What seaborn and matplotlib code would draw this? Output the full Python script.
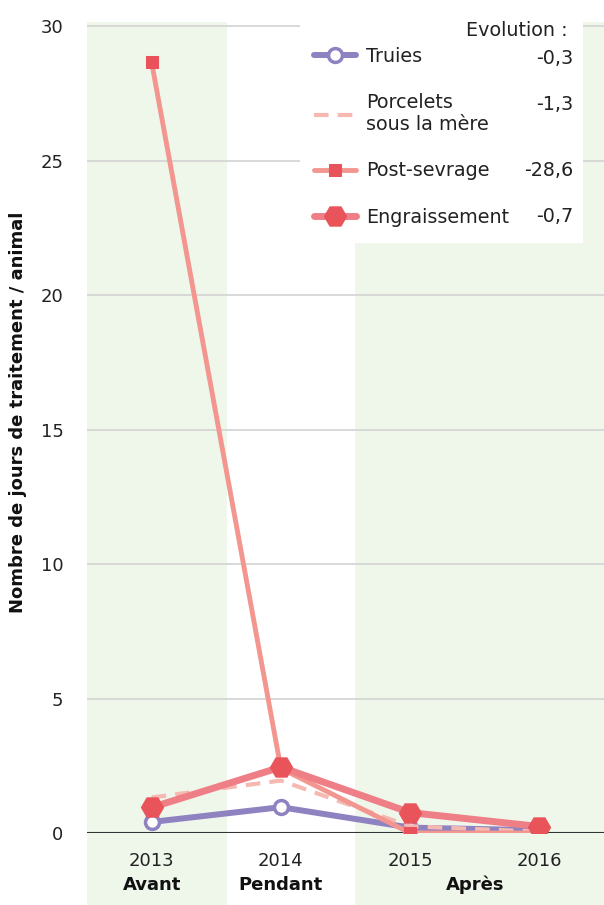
import numpy as np
import pandas as pd
import matplotlib
matplotlib.use("Agg")
import matplotlib.pyplot as plt
import seaborn as sns
from matplotlib.patches import Rectangle

annees = ['2013', '2014', '2015', '2016']
periodes = ['Avant', 'Pendant', 'Après']
periode_pos = [0, 1, 2.5]

truies = [0.41, 0.96, 0.2, 0.1]
porcelets = [1.32, 1.95, 0.25, 0.05]
post_sevrage = [28.65, 2.4, 0.0, 0.0]
engraissement = [0.95, 2.45, 0.76, 0.24]

series = ['Truies', 'Porcelets\nsous la mère', 'Post-sevrage', 'Engraissement']
evolution = ['-0,3', '-1,3', '-28,6', '-0,7']

df = pd.DataFrame({
    'annee': annees * 4,
    'valeur': truies + porcelets + post_sevrage + engraissement,
    'serie': np.repeat(series, 4),
})

sns.set_style("white")
plt.rcParams['font.family'] = ['DejaVu Sans']

# 0 a y=833 px, 30 a y=26 px
ppu = (833 - 26) / 30
top_px = 22
fig = plt.figure(figsize=(6.04, 9.05), dpi=100)
ax = fig.add_axes([87/604, 1-833/905, 1-87/604, (833-top_px)/905])
ax_h = 833 - top_px

green = '#eff6ea'
# fonds des periodes
ax.axvspan(-0.5, 0.58, ymin=-72/ax_h, ymax=1, color=green, lw=0, zorder=0, clip_on=False)
ax.axvspan(1.57, 3.5, ymin=-72/ax_h, ymax=1, color=green, lw=0, zorder=0, clip_on=False)

ax.set_axisbelow(True)
ax.yaxis.grid(True, color='#d6d6d6', lw=1.3)
ax.xaxis.grid(False)

# cadre blanc de la legende
ax.add_patch(Rectangle((300/604, 1-243/905), 283/604, 221/905, transform=fig.transFigure,
                       facecolor='white', edgecolor='none', zorder=0.8, clip_on=False))

styles = {
    'Truies': dict(color='#8f82c0', lw=4.3, marker='o', markersize=10,
                   markerfacecolor='white', markeredgecolor='#8f82c0', markeredgewidth=2.5),
    'Porcelets\nsous la mère': dict(color='#f5b9b2', lw=3, dashes=(3.5, 2.2)),
    'Post-sevrage': dict(color='#f2968f', lw=3.5, marker='s', markersize=8,
                         markerfacecolor='#e9525a', markeredgecolor='#e9525a'),
    'Engraissement': dict(color='#ef7f86', lw=5, marker='H', markersize=16,
                          markerfacecolor='#e9545b', markeredgecolor='#e9545b'),
}

for i, s in enumerate(series):
    sns.lineplot(data=df[df['serie'] == s], x='annee', y='valeur', label=s,
                 ax=ax, zorder=2 + i, **styles[s])

ax.axhline(0, color='#333333', lw=1.5, zorder=1.5)

ax.set_xlim(-0.5, 3.5)
ax.set_ylim(0, 30 + (26 - top_px) / ppu)
ax.set_yticks([0, 5, 10, 15, 20, 25, 30])
sns.despine(ax=ax, left=True, bottom=True)
ax.tick_params(axis='both', length=0, labelsize=13, colors='#222222')
ax.tick_params(axis='y', pad=17)
ax.tick_params(axis='x', pad=14)
ax.set_xlabel('')
ax.set_ylabel('Nombre de jours de traitement / animal', fontsize=13, fontweight='bold',
              color='#111111')
ax.yaxis.set_label_coords(-0.116, (833 - 412) / ax_h)

for p, lab in zip(periode_pos, periodes):
    ax.text(p, -52/ax_h, lab, transform=ax.get_xaxis_transform(), ha='center', va='center',
            fontsize=13, fontweight='bold', color='#111111', clip_on=False)

handles, labels = ax.get_legend_handles_labels()
leg = ax.legend(handles, labels, loc='upper left', bbox_to_anchor=(314/604, 1-47/905),
                bbox_transform=fig.transFigure, frameon=False, fontsize=13.8,
                handlelength=2.2, handletextpad=0.5, labelspacing=1.42, numpoints=1,
                borderaxespad=0, borderpad=0)
for t in leg.get_texts():
    t.set_color('#222222')

fig.text(568/604, 1-31/905, 'Evolution :', ha='right', va='center', fontsize=13.8, color='#222222')
for yy, v in zip([58, 104, 170, 216], evolution):
    fig.text(573/604, 1-yy/905, v, ha='right', va='center', fontsize=13.8, color='#222222')

fig.savefig('out.png', dpi=100)
